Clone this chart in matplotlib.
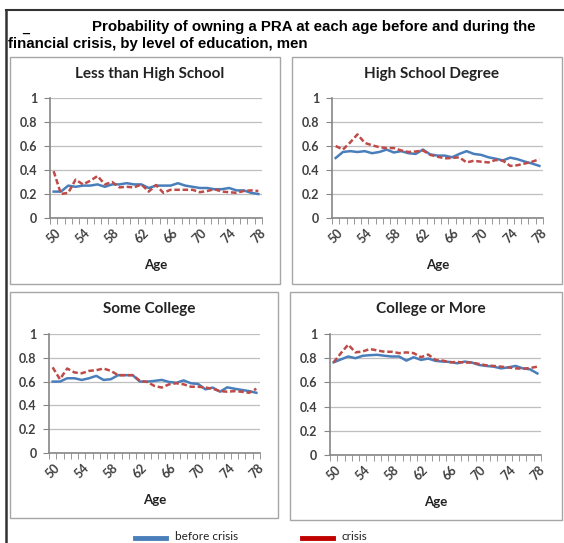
import numpy as np
import matplotlib
matplotlib.use("Agg")
import matplotlib.pyplot as plt
from matplotlib.patches import Rectangle
from matplotlib.lines import Line2D

# Datos
ages = list(range(50, 79))
age_labels = [str(a) for a in range(50, 79, 4)]

titles = ["Less than High School", "High School Degree", "Some College", "College or More"]

less_hs_before = [0.22, 0.22, 0.27, 0.26, 0.27, 0.27, 0.28, 0.26, 0.28, 0.28, 0.29, 0.28, 0.28, 0.25, 0.27,
                  0.27, 0.27, 0.29, 0.27, 0.26, 0.25, 0.25, 0.24, 0.24, 0.25, 0.23, 0.23, 0.21, 0.20]
less_hs_crisis = [0.39, 0.20, 0.21, 0.32, 0.28, 0.31, 0.35, 0.28, 0.30, 0.255, 0.26, 0.255, 0.28, 0.22, 0.275,
                  0.21, 0.235, 0.235, 0.235, 0.235, 0.215, 0.225, 0.24, 0.22, 0.215, 0.21, 0.225, 0.23, 0.225]

hs_before = [0.50, 0.55, 0.557, 0.55, 0.557, 0.54, 0.55, 0.57, 0.546, 0.557, 0.54, 0.534, 0.57, 0.53, 0.52,
             0.52, 0.506, 0.534, 0.557, 0.534, 0.526, 0.506, 0.494, 0.48, 0.503, 0.49, 0.47, 0.454, 0.434]
hs_crisis = [0.60, 0.57, 0.63, 0.697, 0.626, 0.606, 0.59, 0.583, 0.583, 0.563, 0.55, 0.554, 0.563, 0.526, 0.511,
             0.497, 0.50, 0.506, 0.463, 0.477, 0.469, 0.463, 0.483, 0.477, 0.434, 0.44, 0.454, 0.469, 0.49]

some_col_before = [0.60, 0.60, 0.628, 0.628, 0.614, 0.628, 0.648, 0.614, 0.62, 0.654, 0.654, 0.654, 0.60, 0.60, 0.606,
                   0.614, 0.597, 0.59, 0.61, 0.586, 0.58, 0.535, 0.55, 0.515, 0.552, 0.54, 0.53, 0.52, 0.506]
some_col_crisis = [0.72, 0.62, 0.71, 0.677, 0.67, 0.69, 0.696, 0.71, 0.69, 0.654, 0.654, 0.654, 0.606, 0.597, 0.563,
                   0.55, 0.577, 0.586, 0.577, 0.557, 0.557, 0.55, 0.54, 0.52, 0.515, 0.52, 0.515, 0.506, 0.54]

college_before = [0.766, 0.79, 0.814, 0.80, 0.82, 0.825, 0.828, 0.82, 0.814, 0.814, 0.78, 0.808, 0.786, 0.797, 0.778,
                  0.772, 0.769, 0.758, 0.772, 0.764, 0.744, 0.736, 0.73, 0.716, 0.724, 0.736, 0.716, 0.708, 0.674]
college_crisis = [0.766, 0.842, 0.912, 0.848, 0.856, 0.876, 0.864, 0.853, 0.853, 0.842, 0.848, 0.842, 0.808, 0.83, 0.786,
                  0.78, 0.766, 0.769, 0.764, 0.764, 0.752, 0.741, 0.736, 0.73, 0.724, 0.716, 0.713, 0.719, 0.73]

before = [less_hs_before, hs_before, some_col_before, college_before]
crisis = [less_hs_crisis, hs_crisis, some_col_crisis, college_crisis]

W, H = 564, 543
BLUE = "#4A7EBB"
RED = "#BE4B48"
TXT = "#404040"
FONT = ["Lato", "DejaVu Sans"]


def fx(x):
    return x / W


def fy(y):
    return 1 - y / H


fig = plt.figure(figsize=(W / 100, H / 100), dpi=100)

# Marco exterior
fig.add_artist(Line2D([fx(6), fx(564)], [fy(10), fy(10)], color="#333333", lw=1.5))
fig.add_artist(Line2D([fx(6), fx(6)], [fy(10), fy(543)], color="#333333", lw=1.8))

# Titulo
fig.text(fx(22), fy(29), "_", fontsize=9, fontweight="bold", family="Liberation Sans", va="center")
fig.text(fx(92), fy(27), "Probability of owning a PRA at each age before and during the",
         fontsize=10.8, fontweight="bold", family="Liberation Sans", va="center")
fig.text(fx(8), fy(44), "financial crisis, by level of education, men",
         fontsize=10.8, fontweight="bold", family="Liberation Sans", va="center")

# Cajas de cada panel (x0, x1, y0, y1) y areas de graficos
boxes = [(10, 280, 57, 284), (292, 562, 57, 284), (10, 278, 292, 518), (290, 562, 292, 520)]
areas = [(50, 262, 98, 218), (332, 543, 98, 218), (49, 260, 334, 453), (330, 541, 334, 455)]

x = np.arange(len(ages))

for k in range(4):
    bx0, bx1, by0, by1 = boxes[k]
    fig.add_artist(Rectangle((fx(bx0), fy(by1)), fx(bx1 - bx0), (by1 - by0) / H,
                             fill=False, edgecolor="#A6A6A6", lw=1.0))
    ax0, ax1, ay0, ay1 = areas[k]
    ax = fig.add_axes([fx(ax0), fy(ay1), fx(ax1 - ax0), (ay1 - ay0) / H])

    ax.plot(x, before[k], color=BLUE, lw=1.8)
    ax.plot(x, crisis[k], color=RED, lw=1.8, ls=(0, (2.2, 1.1)))

    ax.set_xlim(-0.5, len(ages) - 0.5)
    ax.set_ylim(0, 1)
    ax.set_yticks(np.arange(0, 1.01, 0.2))
    ax.set_yticklabels(["0", "0.2", "0.4", "0.6", "0.8", "1"])
    ax.grid(axis="y", color="#BFBFBF", lw=0.9)
    ax.set_axisbelow(True)
    for s in ["top", "right"]:
        ax.spines[s].set_visible(False)
    ax.spines["left"].set_color("#868686")
    ax.spines["bottom"].set_color("#868686")
    ax.spines["left"].set_linewidth(1.2)
    ax.spines["bottom"].set_linewidth(1.2)

    ax.set_xticks(x[::4])
    ax.set_xticklabels(age_labels, rotation=45, ha="center", va="top")
    ax.set_xticks(np.arange(-0.5, len(ages)), minor=True)
    ax.tick_params(axis="x", which="major", length=0, pad=6, labelsize=9, labelcolor=TXT)
    ax.tick_params(axis="x", which="minor", length=4, color="#868686", direction="out")
    ax.tick_params(axis="y", length=4, color="#868686", labelsize=9, labelcolor=TXT, pad=5)
    for lab in ax.get_xticklabels() + ax.get_yticklabels():
        lab.set_family(FONT)
        lab.set_fontweight("bold")

    cx = (bx0 + bx1) / 2 + 5
    fig.text(fx(cx), fy(by0 + 17), titles[k], fontsize=11, fontweight="bold", family=FONT,
             ha="center", va="center", color="#222222")
    fig.text(fx((ax0 + ax1) / 2), fy(ay1 + 47), "Age", fontsize=9.5, fontweight="bold", family=FONT,
             ha="center", va="center", color="#222222")

# Leyenda
fig.add_artist(Line2D([fx(135), fx(166)], [fy(538), fy(538)], color=BLUE, lw=3.5))
fig.text(fx(175), fy(536), "before crisis", fontsize=8.5, family=FONT, va="center", color="#222222")
fig.add_artist(Line2D([fx(302), fx(333)], [fy(538), fy(538)], color="#C00000", lw=3.5))
fig.text(fx(341), fy(536), "crisis", fontsize=8.5, family=FONT, va="center", color="#222222")

fig.savefig("out.png", dpi=100)
